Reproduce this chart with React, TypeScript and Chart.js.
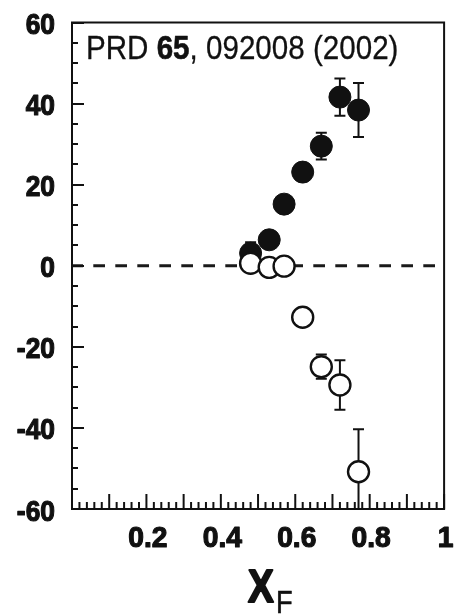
import React, { useEffect, useRef } from "react";
import { Chart, registerables } from "chart.js";
Chart.register(...registerables);

// ---- data ----
const xF = [0.48, 0.53, 0.57, 0.62, 0.67, 0.72, 0.77];
const filledY = [3.1, 6.4, 15.2, 23.1, 29.5, 41.6, 38.4];
const filledErr = [2.7, 0, 0, 0, 3.3, 4.6, 6.65];
const openY = [0.6, -0.4, -0.1, -12.7, -24.9, -29.4, -50.8];
const openErr = [0, 0, 0, 0, 3, 6.1, 10.5];

const xTickValues = [0.2, 0.4, 0.6, 0.8, 1];
const xTickLabels = ["0.2", "0.4", "0.6", "0.8", "1"];
const yTickValues = [-60, -40, -20, 0, 20, 40, 60];
const yTickLabels = ["-60", "-40", "-20", "0", "20", "40", "60"];
const titleParts = [
  { text: "PRD ", bold: false },
  { text: "65", bold: true },
  { text: ", 092008 (2002)", bold: false },
];
const xTitleMain = "X";
const xTitleSub = "F";

const FONT = '"Liberation Sans", Arial, Helvetica, sans-serif';
const INK = "#111";

function condensed(
  ctx: CanvasRenderingContext2D,
  text: string,
  x: number,
  y: number,
  font: string,
  sx: number,
  align: CanvasTextAlign,
  stroke = 0
) {
  ctx.save();
  ctx.font = font;
  ctx.fillStyle = INK;
  ctx.strokeStyle = INK;
  ctx.textBaseline = "alphabetic";
  ctx.textAlign = align;
  ctx.translate(x, y);
  ctx.scale(sx, 1);
  ctx.fillText(text, 0, 0);
  if (stroke > 0) {
    ctx.lineWidth = stroke;
    ctx.lineJoin = "round";
    ctx.strokeText(text, 0, 0);
  }
  ctx.restore();
}

const decorPlugin = {
  id: "decor",
  beforeDraw(chart: any) {
    const ctx = chart.ctx as CanvasRenderingContext2D;
    ctx.save();
    ctx.fillStyle = "#fff";
    ctx.fillRect(0, 0, chart.width, chart.height);
    ctx.restore();
  },
  beforeDatasetsDraw(chart: any) {
    const ctx = chart.ctx as CanvasRenderingContext2D;
    const { left, right, top, bottom } = chart.chartArea;
    const xs = chart.scales.x;
    const ys = chart.scales.y;
    ctx.save();
    ctx.beginPath();
    ctx.rect(left, top, right - left, bottom - top);
    ctx.clip();
    // dashed zero line
    const y0 = ys.getPixelForValue(0);
    ctx.strokeStyle = "#1a1a1a";
    ctx.lineWidth = 3;
    ctx.setLineDash([11.7, 10.3]);
    ctx.lineDashOffset = 0.7;
    ctx.beginPath();
    ctx.moveTo(left, y0);
    ctx.lineTo(right - 6, y0);
    ctx.stroke();
    ctx.setLineDash([]);
    // error bars
    ctx.strokeStyle = INK;
    ctx.lineWidth = 2;
    const drawErr = (ys_: number[], es: number[]) => {
      for (let i = 0; i < xF.length; i++) {
        if (!es[i]) continue;
        const px = xs.getPixelForValue(xF[i]);
        const pt = ys.getPixelForValue(ys_[i] + es[i]);
        const pb = ys.getPixelForValue(ys_[i] - es[i]);
        ctx.beginPath();
        ctx.moveTo(px, pt);
        ctx.lineTo(px, pb);
        ctx.moveTo(px - 5.5, pt);
        ctx.lineTo(px + 5.5, pt);
        ctx.moveTo(px - 5.5, pb);
        ctx.lineTo(px + 5.5, pb);
        ctx.stroke();
      }
    };
    drawErr(filledY, filledErr);
    drawErr(openY, openErr);
    ctx.restore();
  },
  afterDraw(chart: any) {
    const ctx = chart.ctx as CanvasRenderingContext2D;
    const { left, right, top, bottom } = chart.chartArea;
    const xs = chart.scales.x;
    const ys = chart.scales.y;
    ctx.save();
    ctx.strokeStyle = INK;
    // frame
    ctx.lineWidth = 2;
    ctx.strokeRect(left, top, right - left, bottom - top);
    // y ticks (inward, left only)
    for (let v = -60; v <= 60; v += 5) {
      const py = Math.round(ys.getPixelForValue(v));
      const len = v % 20 === 0 ? 12 : 6;
      ctx.lineWidth = 2;
      ctx.beginPath();
      ctx.moveTo(left, py);
      ctx.lineTo(left + len, py);
      ctx.stroke();
    }
    // x ticks (inward, bottom only)
    for (let k = 0; k <= 50; k++) {
      const v = k / 50;
      const px = xs.getPixelForValue(v);
      const len = k % 5 === 0 ? 15 : 7;
      ctx.lineWidth = 2;
      ctx.beginPath();
      ctx.moveTo(px, bottom);
      ctx.lineTo(px, bottom - len);
      ctx.stroke();
    }
    ctx.restore();

    const tickFont = `bold 30px ${FONT}`;
    yTickValues.forEach((v, i) => {
      condensed(ctx, yTickLabels[i], left - 17, ys.getPixelForValue(v) + 11.5, tickFont, 0.88, "right", 1.2);
    });
    xTickValues.forEach((v, i) => {
      condensed(ctx, xTickLabels[i], xs.getPixelForValue(v) + 1.5, bottom + 37.5, tickFont, 0.94, "center", 1.2);
    });

    // in-plot title with bold volume number
    let tx = left + 14;
    const ty = top + 36.5;
    const sx = 0.87;
    titleParts.forEach((p) => {
      const f = `${p.bold ? "bold " : ""}34px ${FONT}`;
      ctx.save();
      ctx.font = f;
      const w = ctx.measureText(p.text).width * sx;
      ctx.restore();
      condensed(ctx, p.text, tx, ty, f, sx, "left", p.bold ? 0.6 : 0.3);
      tx += w;
    });

    // x-axis title X_F
    const cx = (left + right) / 2;
    condensed(ctx, xTitleMain, cx - 10, bottom + 93, `bold 47px ${FONT}`, 0.82, "left", 2);
    condensed(ctx, xTitleSub, cx + 18, bottom + 104, `32px ${FONT}`, 0.85, "left", 0.6);
  },
};

export default function App() {
  const ref = useRef<HTMLCanvasElement>(null);
  useEffect(() => {
    if (!ref.current) return;
    const chart = new Chart(ref.current, {
      type: "scatter",
      data: {
        datasets: [
          {
            label: "open",
            data: xF.map((x, i) => ({ x, y: openY[i] })),
            pointRadius: 10.5,
            pointBorderWidth: 2.4,
            pointBackgroundColor: "#fff",
            pointBorderColor: INK,
            showLine: false,
          },
          {
            label: "filled",
            data: xF.map((x, i) => ({ x, y: filledY[i] })),
            pointRadius: 11,
            pointBorderWidth: 1,
            pointBackgroundColor: INK,
            pointBorderColor: INK,
            showLine: false,
          },
        ],
      },
      options: {
        responsive: false,
        animation: false,
        devicePixelRatio: 1,
        layout: { padding: { left: 72, right: 4.5, top: 22.5, bottom: 105 } },
        scales: {
          x: { type: "linear", min: 0, max: 1, display: false },
          y: { type: "linear", min: -60, max: 60, display: false },
        },
        plugins: { legend: { display: false }, tooltip: { enabled: false } },
        events: [],
      },
      plugins: [decorPlugin],
    } as any);
    return () => chart.destroy();
  }, []);
  return (
    <div style={{ position: "absolute", left: 0, top: 0, width: 457, height: 614, background: "#fff" }}>
      <canvas ref={ref} width={457} height={614} style={{ display: "block", width: 457, height: 614 }} />
    </div>
  );
}
